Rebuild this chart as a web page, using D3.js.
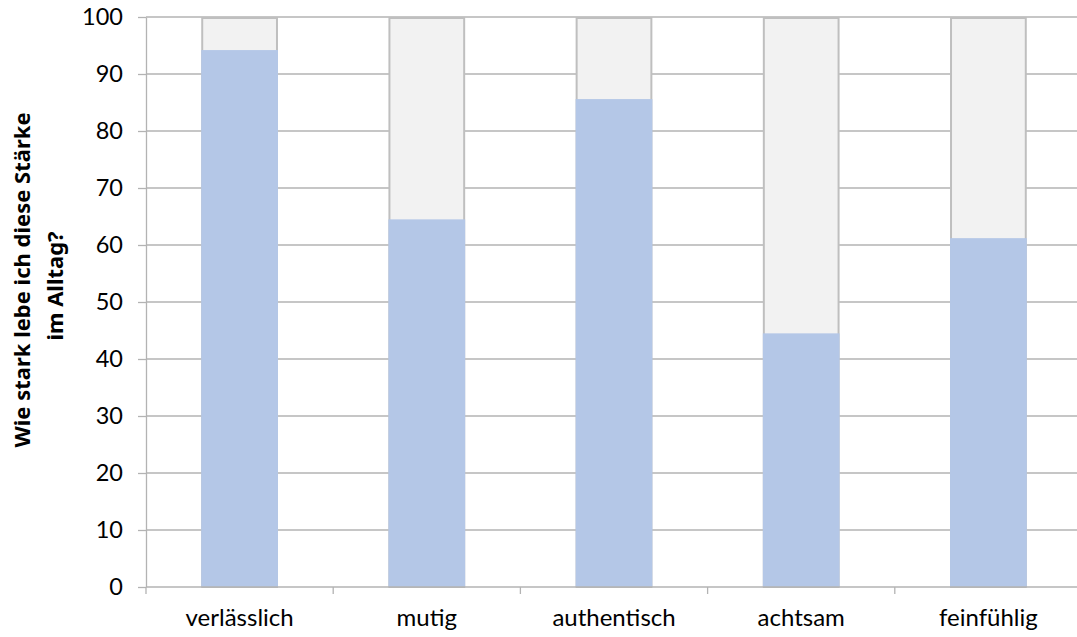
<!DOCTYPE html>
<html>
<head>
<meta charset="utf-8">
<script src="https://cdn.jsdelivr.net/npm/d3@7"></script>
<style>
  body { margin: 0; background: #fff; }
  svg { display: block; }
</style>
</head>
<body>
<div id="chart"></div>
<script>
// chart data
const categories = ["verlässlich", "mutig", "authentisch", "achtsam", "feinfühlig"];
const values = [94.2, 64.5, 85.6, 44.5, 61.2];
const maxValues = [100, 100, 100, 100, 100];
const yTicks = [0, 10, 20, 30, 40, 50, 60, 70, 80, 90, 100];

let width = 1077, height = 637;
let margin = {left: 146, right: -5, top: 17, bottom: 50};

let svg = d3.select("#chart").append("svg")
    .attr("width", width).attr("height", height);

let x = d3.scaleBand()
    .domain(categories)
    .range([margin.left, width - margin.right])
    .paddingInner(0.59).paddingOuter(0.295);

let y = d3.scaleLinear()
    .domain([0, 100])
    .range([height - margin.bottom, margin.top]);

// gridlines
svg.append("g")
    .selectAll("line")
    .data(yTicks.filter(d => d > 0))
    .join("line")
    .attr("x1", margin.left).attr("x2", width)
    .attr("y1", d => y(d)).attr("y2", d => y(d))
    .attr("stroke", "#b3b3b3").attr("stroke-width", 1.3);

// grey background bars (0-100)
svg.append("g")
    .selectAll("rect")
    .data(categories)
    .join("rect")
    .attr("x", d => x(d) + 1)
    .attr("width", x.bandwidth() - 2)
    .attr("y", (d, i) => y(maxValues[i]) + 1)
    .attr("height", (d, i) => y(0) - y(maxValues[i]) - 1)
    .attr("fill", "#f2f2f2")
    .attr("stroke", "#bfbfbf")
    .attr("stroke-width", 2);

// blue bars
svg.append("g")
    .selectAll("rect")
    .data(categories)
    .join("rect")
    .attr("x", d => x(d))
    .attr("width", x.bandwidth())
    .attr("y", (d, i) => y(values[i]))
    .attr("height", (d, i) => y(0) - y(values[i]))
    .attr("fill", "#b4c7e7");

// y axis
let yAxis = svg.append("g")
    .attr("transform", "translate(" + margin.left + ",0)")
    .call(d3.axisLeft(y).tickValues(yTicks).tickSize(8).tickSizeOuter(0).tickPadding(15));

// x axis with ticks between categories
let bandStep = x.step();
let xAxis = svg.append("g")
    .attr("transform", "translate(0," + y(0) + ")")
    .call(d3.axisBottom(x).tickSize(0).tickSizeOuter(0).tickPadding(22));

xAxis.selectAll(".sep")
    .data(d3.range(categories.length + 1))
    .join("line")
    .attr("class", "sep")
    .attr("x1", i => margin.left + i * bandStep)
    .attr("x2", i => margin.left + i * bandStep)
    .attr("y1", 0).attr("y2", 7);

svg.selectAll(".domain, .tick line, .sep")
    .attr("stroke", "#b3b3b3").attr("stroke-width", 1.3);
xAxis.select(".domain").attr("d", "M" + margin.left + ",0H" + width);

svg.selectAll(".tick text")
    .attr("fill", "#000")
    .style("font-family", "Lato, 'Open Sans', sans-serif");
yAxis.selectAll(".tick text").style("font-size", "23.5px");
xAxis.selectAll(".tick text").style("font-size", "24px");

// axis title
let title = svg.append("text")
    .attr("transform", "translate(0,280) rotate(-90)")
    .attr("text-anchor", "middle")
    .style("font-family", "'Noto Sans', sans-serif")
    .style("font-weight", "bold")
    .style("font-size", "22px")
    .attr("fill", "#000");
title.append("tspan").attr("x", 0).attr("y", 30).text("Wie stark lebe ich diese Stärke");
title.append("tspan").attr("x", -6).attr("y", 63).text("im Alltag?");
</script>
</body>
</html>
